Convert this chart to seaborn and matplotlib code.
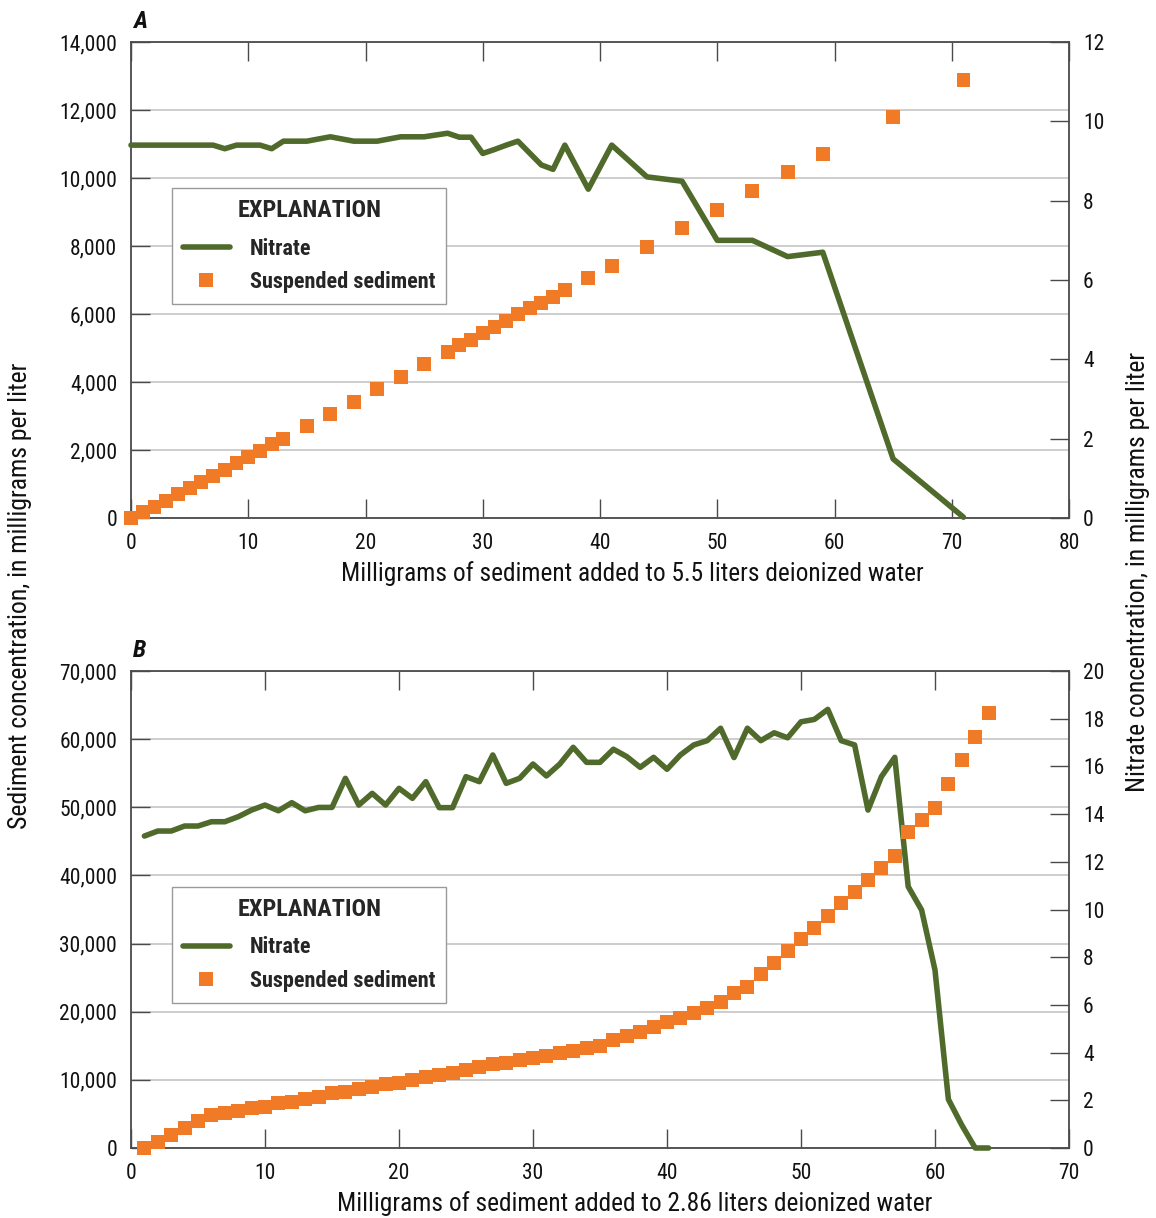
import matplotlib
matplotlib.use("Agg")
import matplotlib.pyplot as plt
from matplotlib import font_manager
from matplotlib.lines import Line2D
from matplotlib.ticker import FuncFormatter, MultipleLocator
import seaborn as sns
import pandas as pd

# ---------------- data ----------------
xA = [0, 1, 2, 3, 4, 5, 6, 7, 8, 9, 10, 11, 12, 13, 15, 17, 19, 21, 23, 25, 27,
      28, 29, 30, 31, 32, 33, 34, 35, 36, 37, 39, 41, 44, 47, 50, 53, 56, 59, 65, 71]
sedA = [0, 167, 333, 510, 696, 882, 1059, 1245, 1412, 1608, 1784, 1961, 2167, 2333,
        2706, 3069, 3422, 3784, 4157, 4529, 4892, 5078, 5245, 5431, 5618, 5794, 5990,
        6176, 6333, 6510, 6706, 7069, 7422, 7970, 8529, 9069, 9618, 10167, 10696,
        11804, 12892]
nitA = [9.40, 9.40, 9.40, 9.40, 9.40, 9.40, 9.40, 9.40, 9.31, 9.40, 9.40, 9.40, 9.31,
        9.50, 9.50, 9.61, 9.50, 9.50, 9.61, 9.61, 9.70, 9.60, 9.60, 9.19, 9.29, 9.40,
        9.50, 9.20, 8.90, 8.79, 9.40, 8.29, 9.40, 8.60, 8.49, 7.00, 7.00, 6.59, 6.70,
        1.49, 0.02]

xB = list(range(1, 65))
sedB = [0, 832, 1908, 2984, 4011, 4843, 5088, 5479, 5822, 6066,
        6555, 6800, 7142, 7534, 8023, 8267, 8610, 9001, 9344, 9588,
        9979, 10371, 10713, 11056, 11447, 11936, 12279, 12523, 12915, 13159,
        13550, 13893, 14284, 14627, 14969, 15850, 16437, 17073, 17709, 18443,
        19030, 19763, 20497, 21475, 22699, 23676, 25487, 27101, 28911, 30623,
        32238, 34047, 35906, 37618, 39331, 41141, 42853, 46327, 48136, 49946,
        53371, 56941, 60366, 63887]
nitB = [13.08, 13.29, 13.29, 13.50, 13.50, 13.68, 13.68, 13.89, 14.17, 14.38,
        14.14, 14.48, 14.14, 14.28, 14.28, 15.50, 14.38, 14.87, 14.38, 15.08,
        14.66, 15.36, 14.27, 14.27, 15.57, 15.36, 16.48, 15.29, 15.50, 16.10,
        15.60, 16.10, 16.80, 16.17, 16.17, 16.72, 16.41, 15.96, 16.38, 15.88,
        16.48, 16.90, 17.08, 17.60, 16.37, 17.60, 17.08, 17.41, 17.20, 17.87,
        17.97, 18.39, 17.08, 16.90, 14.17, 15.57, 16.38, 10.96, 9.98, 7.46,
        2.04, 0.96, 0.0, 0.0]

xlabelA = "Milligrams of sediment added to 5.5 liters deionized water"
xlabelB = "Milligrams of sediment added to 2.86 liters deionized water"
ylabel_left = "Sediment concentration, in milligrams per liter"
ylabel_right = "Nitrate concentration, in milligrams per liter"

# ---------------- style ----------------
sns.set_theme(style="white")
installed = {f.name for f in font_manager.fontManager.ttflist}
prefs = ["Liberation Sans Narrow", "Roboto Condensed", "DejaVu Sans Condensed",
         "Roboto", "Liberation Sans"]
fam = [f for f in prefs if f in installed] + ["DejaVu Sans"]
plt.rcParams["font.family"] = fam
narrow = fam[0] in ("Liberation Sans Narrow", "Roboto Condensed", "DejaVu Sans Condensed")
k = 1.0 if narrow else 0.85

GREEN = "#4f6a2b"
ORANGE = "#f07a25"
FRAME = "#4a4a4a"
GRID = "#c9c9c9"
TXT = "#111111"

fig = plt.figure(figsize=(11.56, 12.18), dpi=100)


def panel(rect, x, sed, nit, xmax, xstep, ymax, ystep, rmax, rstep, xlabel, xlab_pos,
          letter, leg_anchor):
    ax = fig.add_axes(rect)
    df = pd.DataFrame({"x": x, "sed": sed, "nit": nit})
    ax.set_xlim(0, xmax)
    ax.set_ylim(0, ymax)
    ax.yaxis.set_major_locator(MultipleLocator(ystep))
    ax.xaxis.set_major_locator(MultipleLocator(xstep))
    ax.yaxis.set_major_formatter(FuncFormatter(lambda v, p: f"{int(v):,}"))
    ax.yaxis.grid(True, color=GRID, lw=1.3)
    ax.xaxis.grid(False)
    ax.set_axisbelow(True)
    for s in ax.spines.values():
        s.set_color(FRAME)
        s.set_linewidth(1.3)
        s.set_visible(True)
    ax.tick_params(axis="y", direction="in", length=14, width=1.0, color=FRAME,
                   labelsize=15.5 * k, labelcolor=TXT, pad=10, left=True, right=False)
    ax.tick_params(axis="x", direction="in", length=14, width=1.0, color=FRAME,
                   labelsize=15.5 * k, labelcolor=TXT, pad=11, top=True, bottom=True)
    ax.set_xlabel(xlabel, fontsize=18.3 * k, color=TXT, labelpad=5)
    ax.xaxis.set_label_coords(xlab_pos, -0.091)
    ax.set_ylabel("")

    # nitrate on twin axis
    axr = ax.twinx()
    sns.lineplot(data=df, x="x", y="nit", ax=axr, color=GREEN, linewidth=4.0,
                 clip_on=False, legend=False)
    axr.set_ylim(0, rmax)
    axr.yaxis.set_major_locator(MultipleLocator(rstep))
    axr.set_ylabel("")
    axr.grid(False)
    for s in axr.spines.values():
        s.set_visible(False)
    axr.tick_params(axis="y", direction="in", length=14, width=1.0, color=FRAME,
                    labelsize=15.5 * k, labelcolor=TXT, pad=10)

    # sediment on top layer sharing left y-scale
    axs = ax.twinx()
    axs.sharey(ax)
    sns.scatterplot(data=df, x="x", y="sed", ax=axs, marker="s", s=100, color=ORANGE,
                    edgecolor="none", linewidth=0, clip_on=False, legend=False, zorder=5)
    axs.set_ylim(0, ymax)
    axs.axis("off")

    handles = [Line2D([], [], color=GREEN, lw=4.0),
               Line2D([], [], color=ORANGE, marker="s", markersize=10, lw=0,
                      markeredgewidth=0)]
    leg = axs.legend(handles, ["Nitrate", "Suspended sediment"], title="EXPLANATION",
                     loc="upper left", bbox_to_anchor=leg_anchor, frameon=True,
                     fancybox=False, edgecolor="#9a9a9a", framealpha=1,
                     prop={"weight": "bold", "size": 16 * k}, handlelength=2.1,
                     handletextpad=0.9, borderpad=0.5, labelspacing=0.5,
                     borderaxespad=0)
    leg.get_title().set_fontweight("bold")
    leg.get_title().set_fontsize(17.5 * k)
    leg.get_frame().set_linewidth(1.0)
    leg._legend_box.sep = 11
    leg.set_zorder(20)

    ax.text(0.002, 1.018, letter, transform=ax.transAxes, fontsize=17.5 * k,
            fontweight="bold", fontstyle="italic", ha="left", va="bottom", color=TXT)
    return ax


L, R = 131 / 1156, 1069 / 1156
panel([L, (1218 - 518) / 1218, R - L, 476 / 1218], xA, sedA, nitA,
      80, 10, 14000, 2000, 12, 2, xlabelA, 0.534, "A", (0.0437, 0.693))
panel([L, (1218 - 1148) / 1218, R - L, 477 / 1218], xB, sedB, nitB,
      70, 10, 70000, 10000, 20, 2, xlabelB, 0.537, "B", (0.0437, 0.547))

fig.text(20 / 1156, 1 - 596 / 1218, ylabel_left, rotation=90, fontsize=18.5 * k,
         ha="center", va="center", color=TXT)
fig.text(1138 / 1156, 1 - 572 / 1218, ylabel_right, rotation=90, fontsize=18.5 * k,
         ha="center", va="center", color=TXT)

fig.savefig("out.png", dpi=100)
